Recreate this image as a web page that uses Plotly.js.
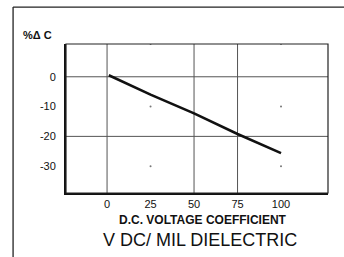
<!DOCTYPE html>
<html><head><meta charset="utf-8">
<script src="https://cdn.plot.ly/plotly-3.0.1.min.js"></script>
<style>html,body{margin:0;padding:0;background:#fff;}#chart{width:344px;height:257px;}</style>
</head><body><div id="chart"></div>
<script>
// data
const voltage = [1, 25, 50, 75, 100];
const deltaC = [0.5, -6, -12.3, -19.2, -25.6];
const xTicks = [0, 25, 50, 75, 100];
const yTicks = [0, -10, -20, -30];
const gridX = [0, 50, 75];
const gridY = [0, -20];
const dotX = [25, 100, 25, 100, 25, 100];
const dotY = [-10, -10, -30, -30, 11, 11];

const shapes = [];
gridX.forEach(v => shapes.push({type:'line', xref:'x', yref:'paper', x0:v, x1:v, y0:0, y1:1, line:{color:'#555', width:1}, layer:'below'}));
gridY.forEach(v => shapes.push({type:'line', xref:'paper', yref:'y', x0:0, x1:1, y0:v, y1:v, line:{color:'#555', width:1}, layer:'below'}));
// outer frame
shapes.push({type:'line', xref:'paper', yref:'paper', x0:-0.202, x1:-0.202, y0:1.248, y1:-0.45, line:{color:'#222', width:1.3}});
shapes.push({type:'line', xref:'paper', yref:'paper', x0:-0.202, x1:1.1, y0:1.248, y1:1.248, line:{color:'#222', width:1.3}});
// plot frame
shapes.push({type:'rect', xref:'paper', yref:'paper', x0:0, x1:1, y0:0, y1:1, line:{color:'#222', width:1.2}});

const traces = [
  {x: dotX, y: dotY, mode:'markers', marker:{size:2, color:'#777'}, hoverinfo:'skip', showlegend:false},
  {x: voltage, y: deltaC, mode:'lines', line:{color:'#111', width:2.6}, showlegend:false}
];

const layout = {
  width:344, height:257,
  margin:{l:66, r:16, t:44, b:64},
  paper_bgcolor:'#fff', plot_bgcolor:'#fff',
  font:{family:'Liberation Sans, Arial, sans-serif', color:'#111', size:11},
  xaxis:{range:[-23.6,127], tickvals:xTicks, ticktext:xTicks.map(String), showgrid:false, zeroline:false,
         showline:true, linecolor:'#111', linewidth:2, ticks:'', ticklabelstandoff:0,
         tickfont:{size:11}},
  yaxis:{range:[-39,11], tickvals:yTicks, ticktext:yTicks.map(String), showgrid:false, zeroline:false,
         showline:true, linecolor:'#111', linewidth:2, ticks:'', ticklabelstandoff:6, tickfont:{size:11}},
  shapes: shapes,
  annotations:[
    {text:'<b>%Δ C</b>', xref:'paper', yref:'paper', x:-0.172, y:1.005, xanchor:'left', yanchor:'bottom', showarrow:false, font:{size:11}},
    {text:'<b>D.C. VOLTAGE COEFFICIENT</b>', xref:'paper', yref:'paper', x:0.521, y:-0.178, xanchor:'center', yanchor:'middle', showarrow:false, font:{size:12}},
    {text:'V DC/ MIL DIELECTRIC', xref:'paper', yref:'paper', x:0.51, y:-0.318, xanchor:'center', yanchor:'middle', showarrow:false, font:{size:18}}
  ]
};
Plotly.newPlot('chart', traces, layout, {displayModeBar:false, staticPlot:true});
</script></body></html>
